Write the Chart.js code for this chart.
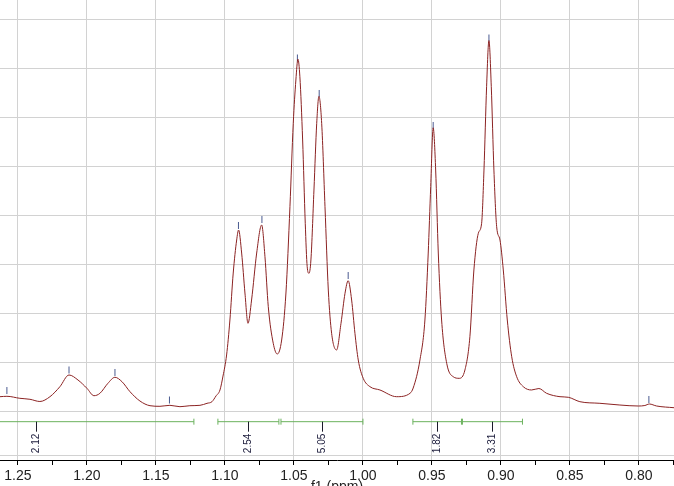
<!DOCTYPE html>
<html><head><meta charset="utf-8">
<script src="https://cdn.jsdelivr.net/npm/chart.js@4.4.0/dist/chart.umd.min.js"></script>
<style>html,body{margin:0;padding:0;background:#fff;overflow:hidden;width:674px;height:486px}canvas{display:block}</style>
</head><body>
<canvas id="c" width="674" height="510"></canvas>
<script>
// Chemical shift (ppm) and intensity of the traced spectrum
const shiftPpm = [1.2630,1.2580,1.2486,1.2413,1.2341,1.2268,1.2196,1.2130,1.2065,1.2000,
1.1949,1.1906,1.1848,1.1797,1.1746,1.1688,1.1616,1.1543,1.1471,1.1399,
1.1326,1.1254,1.1181,1.1130,1.1094,1.1065,1.1036,1.1014,1.0988,1.0964,
1.0940,1.0915,1.0901,1.0879,1.0855,1.0833,1.0807,1.0770,1.0734,1.0710,
1.0686,1.0650,1.0621,1.0589,1.0558,1.0529,1.0505,1.0486,1.0471,1.0457,
1.0437,1.0418,1.0404,1.0391,1.0377,1.0355,1.0335,1.0319,1.0299,1.0275,
1.0251,1.0227,1.0191,1.0159,1.0130,1.0107,1.0082,1.0058,1.0034,0.9998,
0.9949,0.9877,0.9756,0.9659,0.9636,0.9587,0.9551,0.9527,0.9509,0.9491,
0.9473,0.9454,0.9430,0.9393,0.9346,0.9302,0.9261,0.9225,0.9196,0.9164,
0.9140,0.9123,0.9104,0.9087,0.9070,0.9051,0.9031,0.9007,0.8983,0.8954,
0.8922,0.8886,0.8838,0.8778,0.8725,0.8669,0.8572,0.8512,0.8428,0.8283,
0.8138,0.8005,0.7957,0.7925,0.7872,0.7746];
const intensity = [2.92,3.00,2.59,2.39,1.94,2.92,4.96,7.35,6.33,4.63,
3.12,3.61,5.65,6.88,5.98,3.94,2.04,1.08,0.96,1.16,
0.88,1.08,1.16,1.57,1.90,3.06,4.29,7.14,11.43,18.57,
28.16,34.90,36.94,32.24,24.08,17.90,22.65,32.24,37.96,31.49,
21.29,13.82,11.63,14.49,24.08,41.69,58.71,67.55,71.80,68.22,
55.31,38.31,29.45,28.10,30.82,45.10,58.71,64.20,58.71,41.69,
24.69,15.86,12.45,17.90,24.02,26.59,22.65,15.86,10.41,6.67,
4.96,4.29,2.92,3.61,4.69,10.41,18.57,32.24,45.78,57.80,
49.18,32.24,18.57,9.73,7.00,6.67,8.37,15.16,28.78,36.27,
38.31,49.18,66.18,75.60,66.18,49.18,37.61,34.90,28.78,18.57,
11.08,7.00,4.96,4.29,4.59,3.61,2.92,2.80,1.90,1.57,
1.22,1.02,1.12,1.43,1.02,0.67];

// Peak-pick markers
const peakPpm = [1.2580,1.2130,1.1797,1.1402,1.0902,1.0732,1.0475,1.0317,1.0107,0.9491,0.9087,0.7928];
const peakMark = [4.18,8.37,7.86,2.24,37.86,39.08,72.04,64.80,27.65,58.27,76.12,2.35];

// Integral regions
const integralFrom = [1.2700,1.1051,1.0594,0.9638,0.9279];
const integralTo   = [1.1225,1.0609,1.0000,0.9286,0.8844];
const integralLabelPpm = [1.2370,1.0833,1.0297,0.9464,0.9065];
const integralValues = ['2.12','2.54','5.05','1.82','3.31'];
const integralLevel = -2.18;

// Axis ranges / ticks
const xMin = 0.7746, xMax = 1.2630;
const yMin = -10, yMax = 83.88;
const yGrid = [-9,0,10,20,30,40,50,60,70,80];
const xTitle = 'f1 (ppm)';

const integralPts = [];
integralFrom.forEach((f,i)=>{ integralPts.push({x:f,y:integralLevel},{x:integralTo[i],y:integralLevel},{x:null,y:null}); });

const isMajor = v => Math.abs(Math.round(v/0.05)*0.05 - v) < 1e-6;

const integralLabels = {
  id:'integralLabels',
  afterDatasetsDraw(chart){
    const {ctx, scales:{x,y}} = chart;
    const top = y.getPixelForValue(integralLevel);
    ctx.save();
    integralLabelPpm.forEach((p,i)=>{
      const px = Math.round(x.getPixelForValue(p)) + 0.5;
      ctx.strokeStyle = '#1a1a2a'; ctx.lineWidth = 1;
      ctx.beginPath(); ctx.moveTo(px, top); ctx.lineTo(px, top+10); ctx.stroke();
      ctx.save();
      ctx.translate(px, top+12);
      ctx.rotate(-Math.PI/2);
      ctx.fillStyle = '#1a1a3a';
      ctx.font = '10px "Liberation Sans"';
      ctx.textAlign = 'right'; ctx.textBaseline = 'middle';
      ctx.fillText(integralValues[i], 0, 0);
      ctx.restore();
    });
    ctx.restore();
  }
};

new Chart(document.getElementById('c'), {
  type:'line',
  data:{ datasets:[
    { data: shiftPpm.map((v,i)=>({x:v,y:intensity[i]})), borderColor:'#8b2222', borderWidth:1,
      pointRadius:0, cubicInterpolationMode:'monotone', fill:false },
    { data: peakPpm.map((v,i)=>({x:v,y:peakMark[i]})), showLine:false, pointStyle:'line', rotation:90,
      pointRadius:3.5, borderColor:'#4a5a90', borderWidth:1, backgroundColor:'#4a5a90' },
    { data: integralPts, borderColor:'#6cb25e', borderWidth:1, spanGaps:false, pointStyle:'line', rotation:90,
      pointRadius:3, pointBorderColor:'#6cb25e', pointBorderWidth:1 }
  ]},
  options:{
    responsive:false, animation:false, events:[],
    layout:{padding:0, autoPadding:false},
    plugins:{legend:{display:false}, tooltip:{enabled:false}},
    scales:{
      x:{ type:'linear', reverse:true, min:xMin, max:xMax,
        afterFit: s => { s.height = 50; s.paddingLeft = 0; s.paddingRight = 0; },
        border:{display:true, color:'#000', width:1},
        grid:{ color: c => (c.tick && isMajor(c.tick.value)) ? '#d2d2d2' : 'rgba(0,0,0,0)', tickColor:'#000', tickLength:5, lineWidth:1 },
        ticks:{ stepSize:0.025, includeBounds:false, autoSkip:false, maxRotation:0, padding:3,
          color:'#222', font:{family:'"Liberation Sans"', size:14},
          callback: v => isMajor(v) ? Number(v).toFixed(2) : '' },
        title:{ display:true, text:xTitle, color:'#222', font:{family:'"Liberation Sans"', size:14}, padding:{top:2,bottom:14} }
      },
      y:{ min:yMin, max:yMax, display:true,
        afterFit: s => { s.width = 0; },
        afterBuildTicks: s => { s.ticks = yGrid.map(v=>({value:v})); },
        border:{display:false},
        grid:{ color:'#d2d2d2', drawTicks:false, lineWidth:1 },
        ticks:{ display:false }
      }
    }
  },
  plugins:[integralLabels]
});
</script>
</body></html>
